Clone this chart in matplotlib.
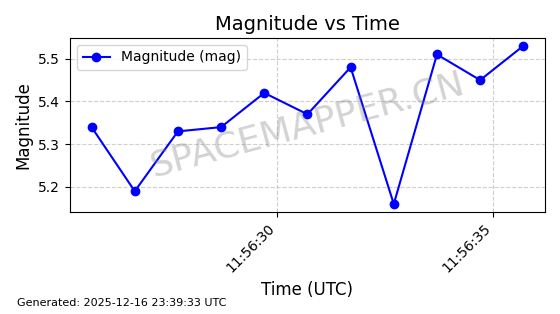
import datetime as dt

import matplotlib
matplotlib.use("Agg")
import matplotlib.dates as mdates
from matplotlib import pyplot as plt

# observation times (UTC) and magnitudes
start = dt.datetime(2025, 12, 16, 11, 56, 25, 700000)
times = [start + dt.timedelta(seconds=i) for i in range(11)]
magnitudes = [5.34, 5.19, 5.33, 5.34, 5.42, 5.37, 5.48, 5.16, 5.51, 5.45, 5.53]

title = "Magnitude vs Time"
generated = "Generated: 2025-12-16 23:39:33 UTC"

fig, ax = plt.subplots(figsize=(5.6, 3.14), dpi=100)
fig.subplots_adjust(left=0.125, right=0.973, top=0.879, bottom=0.325)

ax.plot(times, magnitudes, marker="o", color="blue", linewidth=1.5,
        markersize=6, label="Magnitude (mag)")

ax.set_title(title, fontsize=14)
ax.set_xlabel("Time (UTC)", fontsize=12)
ax.set_ylabel("Magnitude", fontsize=12)
ax.grid(True, linestyle="--", alpha=0.6)
ax.legend(loc="upper left", fontsize=10)

ax.xaxis.set_major_locator(mdates.SecondLocator(bysecond=range(0, 60, 5)))
ax.xaxis.set_major_formatter(mdates.DateFormatter("%H:%M:%S"))
plt.setp(ax.get_xticklabels(), rotation=45, ha="right")

ax.text(0.5, 0.5, "SPACEMAPPER.CN", transform=ax.transAxes, fontsize=26,
        color="gray", alpha=0.35, rotation=15, ha="center", va="center")

fig.text(0.03, 0.025, generated, fontsize=8)

fig.savefig("out.png", dpi=100)
